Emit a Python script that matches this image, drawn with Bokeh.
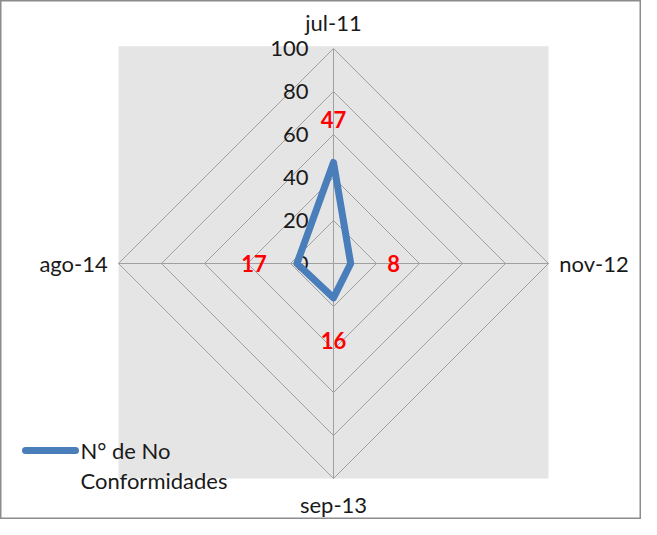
import math
from bokeh.plotting import figure
from bokeh.models import Range1d, ColumnDataSource, Label
from bokeh.core.properties import value
from bokeh.embed import file_html
from bokeh.resources import INLINE

categories = ["jul-11", "nov-12", "sep-13", "ago-14"]
values = [47, 8, 16, 17]
levels = [0, 20, 40, 60, 80, 100]
level_labels = ["0", "20", "40", "60", "80", "100"]
series_name = "N° de No\nConformidades"

FONT = "Lato"
W, H = 641, 519
PX = 2.15            # pixels per radar unit
CX, CY = 333, 263    # centre in figure pixels (from top-left)

p = figure(width=W, height=H, output_backend="svg", toolbar_location=None,
           x_range=Range1d(-CX / PX, (W - CX) / PX),
           y_range=Range1d(-(H - CY) / PX, CY / PX),
           min_border=0)
p.axis.visible = False
p.grid.visible = False
p.background_fill_color = "white"
p.border_fill_color = "white"
p.outline_line_color = "#8c8c8c"
p.outline_line_width = 2

n = len(categories)
angles = [math.pi / 2 - 2 * math.pi * i / n for i in range(n)]
rmax = max(levels)

# plot-area background
p.quad(left=-rmax, right=rmax, bottom=-rmax, top=rmax + 1,
       fill_color="#e5e5e5", line_color=None)

# grid polygons
for lv in levels[1:]:
    xs = [lv * math.cos(a) for a in angles]
    ys = [lv * math.sin(a) for a in angles]
    p.patch(xs, ys, fill_color=None, line_color="#a0a0a0", line_width=1)

# spokes
for a in angles:
    p.line([0, rmax * math.cos(a)], [0, rmax * math.sin(a)],
           line_color="#a0a0a0", line_width=1)

# radial tick labels
tick_src = ColumnDataSource(dict(x=[-25 / PX] * len(levels), y=levels, t=level_labels))
p.text(x="x", y="y", text="t", source=tick_src, text_font=value(FONT),
       text_font_size="22px", text_color="#1a1a1a", text_align="right",
       text_baseline="middle")

# series
sx = [v * math.cos(a) for v, a in zip(values, angles)]
sy = [v * math.sin(a) for v, a in zip(values, angles)]
p.patch(sx, sy, fill_color=None, line_color="#4a7ebb", line_width=7,
        line_join="round")

# data labels
off = 20
lab_src = ColumnDataSource(dict(
    x=[(v + off) * math.cos(a) for v, a in zip(values, angles)],
    y=[(v + off) * math.sin(a) for v, a in zip(values, angles)],
    t=[str(v) for v in values]))
p.text(x="x", y="y", text="t", source=lab_src, text_font=value(FONT),
       text_font_size="22px", text_font_style="bold", text_color="#ff0000",
       text_align="center", text_baseline="middle")

# category labels
cat_x, cat_y, cat_align = [], [], []
for a in angles:
    c, s = math.cos(a), math.sin(a)
    if abs(s) > 0.5:
        cat_x.append(0); cat_y.append(112 * (1 if s > 0 else -1)); cat_align.append("center")
    else:
        cat_x.append(105 * (1 if c > 0 else -1)); cat_y.append(0)
        cat_align.append("left" if c > 0 else "right")
cat_src = ColumnDataSource(dict(x=cat_x, y=cat_y, t=categories, al=cat_align))
p.text(x="x", y="y", text="t", source=cat_src, text_font=value(FONT),
       text_font_size="22px", text_color="#1a1a1a", text_align="al",
       text_baseline="middle")

# legend (manual)
def dx(px):
    return (px - CX) / PX
def dy(py):
    return (CY - py) / PX
p.line([dx(25), dx(75)], [dy(450), dy(450)], line_color="#4a7ebb",
       line_width=7, line_cap="round")
for i, line in enumerate(series_name.split("\n")):
    p.add_layout(Label(x=80, y=H - 450 - 30 * i, x_units="screen", y_units="screen",
                       text=line, text_font=FONT, text_font_size="22px",
                       text_color="#1a1a1a", text_baseline="middle"))

open("out.html", "w").write(file_html(p, INLINE))
